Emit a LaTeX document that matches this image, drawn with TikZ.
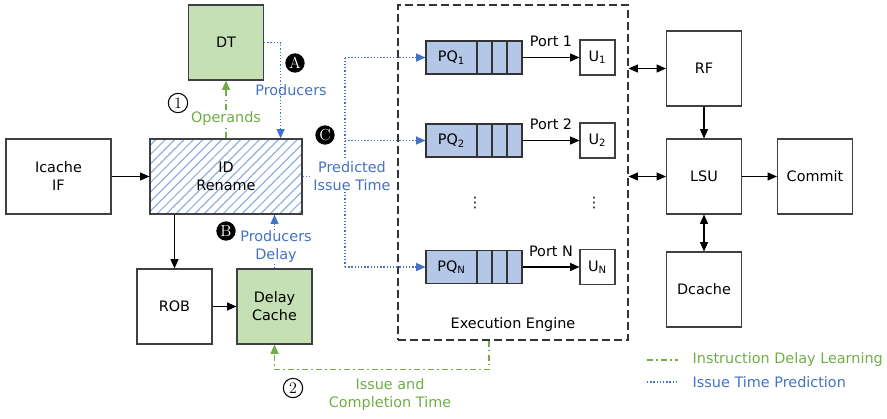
\documentclass[tikz,border=0pt]{standalone}
\usepackage{fontspec}
\setsansfont{DejaVu Sans}
\usetikzlibrary{calc,positioning,arrows.meta,patterns.meta}
\definecolor{lgreen}{HTML}{C5E0B4}
\definecolor{dgreen}{HTML}{70AD47}
\definecolor{lblue}{HTML}{B4C7E7}
\definecolor{dblue}{HTML}{4472C4}
\definecolor{hatchblue}{HTML}{8FB0DD}
\tikzset{
  box/.style={draw=black!75, line width=0.8pt, minimum width=56.25pt, minimum height=56.25pt, align=center, inner sep=0pt},
  pqmain/.style={draw=black!80, line width=0.8pt, fill=lblue, minimum width=38.25pt, minimum height=24.75pt, inner sep=0pt},
  pqcell/.style={pqmain, minimum width=11.25pt},
  unit/.style={draw=black!75, line width=0.8pt, minimum width=26.25pt, minimum height=26.25pt, inner sep=0pt},
  arr/.style={line width=0.8pt, -{Triangle[length=7pt,width=6pt]}},
  dbl/.style={line width=0.8pt, {Triangle[length=7pt,width=6pt]}-{Triangle[length=7pt,width=6pt]}},
  blueln/.style={dblue, line width=0.9pt, dash pattern=on 1pt off 1.4pt},
  greenln/.style={dgreen, line width=0.9pt, dash pattern=on 4.5pt off 2.5pt on 1pt off 2.5pt},
  tip/.style={-{Triangle[length=7pt,width=6pt]}},
  badge/.style={circle, fill=black, text=white, inner sep=0pt, minimum size=14.5pt, font=\rmfamily\fontsize{12}{12}\selectfont},
  numcirc/.style={circle, draw, line width=0.8pt, inner sep=0pt, minimum size=14.5pt, font=\rmfamily\fontsize{12}{12}\selectfont},
  lbl/.style={fill=white, inner sep=1pt, align=center}
}
\begin{document}
\begin{tikzpicture}[x=0.75pt, y=-0.75pt, every node/.style={font=\sffamily\fontsize{10.8}{13.5}\selectfont}]
	%%%%% START %%%%%
	\useasboundingbox (0,0) rectangle (887,418);

	\node[box, fill=lgreen] (dt) at (226,42.5) {DT};
	\node[box, minimum width=78.75pt] (icache) at (58.5,176.5) {Icache\\IF};
	\node[box, minimum width=114pt, pattern={Lines[angle=45,distance=5pt,line width=0.9pt]}, pattern color=hatchblue] (id) at (226,176.5) {ID\\Rename};
	\node[box] (rob) at (174.5,306.5) {ROB};
	\node[box, fill=lgreen] (delay) at (274.5,306.5) {Delay\\Cache};

	\node[draw=black!80, line width=0.8pt, dash pattern=on 6pt off 3pt, minimum width=172.5pt, minimum height=251.25pt] (ee) at (513,172.5) {};
	\node (eelbl) at (513,325) {Execution Engine};

	\node[pqmain] (pq1) at (451.5,57.5) {PQ\textsubscript{1}};
	\node[pqcell, right=-0.8pt of pq1] (pq1a) {};
	\node[pqcell, right=-0.8pt of pq1a] (pq1b) {};
	\node[pqcell, right=-0.8pt of pq1b] (pq1c) {};
	\node[unit] (u1) at (597.5,57.5) {U\textsubscript{1}};

	\node[pqmain] (pq2) at (451.5,140.5) {PQ\textsubscript{2}};
	\node[pqcell, right=-0.8pt of pq2] (pq2a) {};
	\node[pqcell, right=-0.8pt of pq2a] (pq2b) {};
	\node[pqcell, right=-0.8pt of pq2b] (pq2c) {};
	\node[unit] (u2) at (597.5,140.5) {U\textsubscript{2}};

	\node[pqmain] (pqn) at (451.5,267) {PQ\textsubscript{N}};
	\node[pqcell, right=-0.8pt of pqn] (pqna) {};
	\node[pqcell, right=-0.8pt of pqna] (pqnb) {};
	\node[pqcell, right=-0.8pt of pqnb] (pqnc) {};
	\node[unit] (un) at (597.5,267) {U\textsubscript{N}};

	\node (vd1) at (475,203) {⋮};
	\node (vd2) at (594,203) {⋮};

	\draw[arr] (pq1c) -- node[above=4pt] {Port 1} (u1);
	\draw[arr] (pq2c) -- node[above=4pt] {Port 2} (u2);
	\draw[arr] (pqnc) -- node[above=4pt] {Port N} (un);

	\node[box] (rf) at (704,68.5) {RF};
	\node[box] (lsu) at (704,176.5) {LSU};
	\node[box] (commit) at (815,176.5) {Commit};
	\node[box] (dcache) at (704,289.5) {Dcache};

	\draw[arr] (icache) -- (id);
	\draw[arr] (id.south -| rob) -- (rob);
	\draw[arr] (rob) -- (delay);
	\draw[dbl] (ee.east |- rf) -- (rf);
	\draw[dbl] (ee.east |- lsu) -- (lsu);
	\draw[arr] (rf) -- (lsu);
	\draw[arr] (lsu) -- (commit);
	\draw[dbl] (lsu) -- (dcache);

	% learning path
	\draw[greenln, tip] (id.north) -- (dt.south);
	\node[lbl, text=dgreen] (opnd) at (226,119) {Operands};
	\draw[greenln, tip] ($(ee.south)+(-24,0)$) -- ++(0,29) -| (delay.south);
	\node[text=dgreen, align=center] (ict) at (390,395) {Issue and\\Completion Time};

	% prediction path
	\draw[blueln, tip] (dt.east) -| ($(id.north east)+(-22,0)$);
	\node[text=dblue] (prod) at (291,90) {Producers};
	\draw[blueln, tip] (delay.north) -- (delay.north |- id.south);
	\node[lbl, text=dblue] (pdel) at (276,247) {Producers\\Delay};
	\coordinate (fork) at (345,176.5);
	\draw[blueln] (id.east) -- (fork);
	\draw[blueln] (fork |- pq1) -- (fork |- pqn);
	\draw[blueln, tip] (fork |- pq1) -- (pq1);
	\draw[blueln, tip] (fork |- pq2) -- (pq2);
	\draw[blueln, tip] (fork |- pqn) -- (pqn);
	\node[lbl, text=dblue] (pit) at (352,176) {Predicted\\Issue Time};

	\node[badge] (ba) at (295,63) {A};
	\node[badge] (bb) at (226,231) {B};
	\node[badge] (bc) at (325,135) {C};
	\node[numcirc] (n1) at (178,103) {1};
	\node[numcirc] (n2) at (293,388) {2};

	% legend
	\draw[greenln] (647,360) -- (678,360);
	\node[anchor=west, text=dgreen] (lg1) at (688,360) {Instruction Delay Learning};
	\draw[blueln] (647,382) -- (678,382);
	\node[anchor=west, text=dblue] (lg2) at (688,382) {Issue Time Prediction};
	%%%%% END %%%%%
\end{tikzpicture}
\end{document}
